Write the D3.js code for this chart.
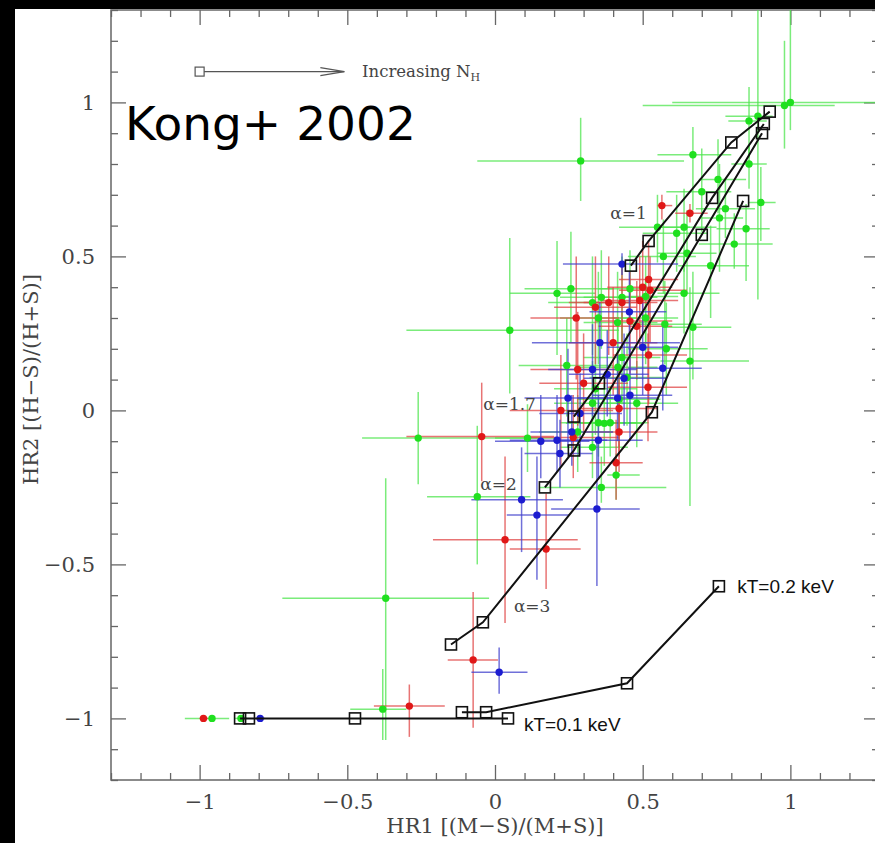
<!DOCTYPE html>
<html>
<head>
<meta charset="utf-8">
<script src="https://cdn.jsdelivr.net/npm/d3@7"></script>
<style>
  body { margin: 0; background: #000; }
  svg { display: block; }
</style>
</head>
<body>
<svg id="chart"></svg>
<script>
const WIDTH = 875,
    HEIGHT = 843;

// sources: [HR1, HR2, HR1 low, HR1 high, HR2 low, HR2 high]
const greenPts = [
    [-0.26, -0.09, -0.45, 0.15, -0.24, 0.06],
    [-0.37, -0.61, -0.72, -0.02, -1.07, -0.22],
    [-0.06, -0.28, -0.23, 0.12, -0.50, -0.05],
    [-0.38, -0.97, -0.49, -0.30, -1.07, -0.84],
    [-0.958, -1.0, -1.05, -0.90, -1.0, -1.0],
    [-0.86, -1.0, -0.88, -0.84, -1.0, -1.0],
    [0.36, -0.25, 0.15, 0.58, -0.30, -0.15],
    [0.41, -0.21, 0.38, 0.49, -0.29, -0.14],
    [0.66, 0.16, 0.56, 0.86, -0.31, 0.40],
    [0.29, 0.81, -0.06, 0.64, 0.68, 0.95],
    [0.67, 0.83, 0.55, 0.80, 0.65, 0.92],
    [1.0, 1.0, 0.60, 1.30, 0.91, 1.30],
    [0.98, 0.99, 0.50, 1.15, 0.85, 1.20],
    [0.89, 0.955, 0.78, 0.94, 0.36, 1.30],
    [0.86, 0.94, 0.79, 0.92, 0.82, 1.05],
    [0.86, 0.80, 0.80, 0.92, 0.72, 0.86],
    [0.755, 0.75, 0.69, 0.85, 0.64, 0.88],
    [0.90, 0.675, 0.86, 0.95, 0.55, 0.79],
    [0.78, 0.655, 0.68, 0.88, 0.56, 0.75],
    [0.76, 0.625, 0.70, 0.84, 0.45, 0.80],
    [0.85, 0.59, 0.75, 0.93, 0.42, 0.67],
    [0.81, 0.54, 0.69, 0.94, 0.46, 0.64],
    [0.64, 0.595, 0.55, 0.75, 0.45, 0.72],
    [0.65, 0.51, 0.55, 0.75, 0.38, 0.65],
    [0.57, 0.50, 0.45, 0.68, 0.38, 0.62],
    [0.55, 0.595, 0.42, 0.66, 0.48, 0.70],
    [0.73, 0.47, 0.62, 0.86, 0.30, 0.60],
    [0.64, 0.38, 0.55, 0.76, 0.25, 0.50],
    [0.70, 0.71, 0.58, 0.80, 0.58, 0.85],
    [0.615, 0.575, 0.50, 0.72, 0.45, 0.70],
    [0.67, 0.27, 0.57, 0.80, 0.10, 0.45],
    [0.457, 0.395, 0.35, 0.56, 0.28, 0.52],
    [0.51, 0.37, 0.42, 0.62, 0.22, 0.50],
    [0.43, 0.367, 0.30, 0.55, 0.22, 0.50],
    [0.36, 0.367, 0.22, 0.48, 0.20, 0.52],
    [0.33, 0.35, 0.18, 0.46, 0.18, 0.50],
    [0.21, 0.38, 0.05, 0.34, 0.18, 0.55],
    [0.257, 0.395, 0.10, 0.40, 0.22, 0.58],
    [0.415, 0.285, 0.30, 0.55, 0.12, 0.45],
    [0.35, 0.30, 0.22, 0.48, 0.15, 0.45],
    [0.51, 0.30, 0.40, 0.62, 0.15, 0.42],
    [0.575, 0.28, 0.45, 0.70, 0.15, 0.42],
    [0.05, 0.26, -0.30, 0.42, 0.055, 0.56],
    [0.58, 0.20, 0.45, 0.72, 0.05, 0.35],
    [0.243, 0.146, 0.08, 0.40, -0.02, 0.30],
    [0.416, 0.14, 0.28, 0.55, 0.0, 0.28],
    [0.43, 0.172, 0.30, 0.56, 0.02, 0.32],
    [0.447, 0.107, 0.32, 0.58, -0.05, 0.25],
    [0.34, 0.07, 0.20, 0.48, -0.08, 0.22],
    [0.42, 0.036, 0.28, 0.56, -0.12, 0.18],
    [0.48, 0.023, 0.36, 0.62, -0.12, 0.16],
    [0.33, 0.023, 0.20, 0.46, -0.12, 0.16],
    [0.37, -0.042, 0.24, 0.50, -0.18, 0.10],
    [0.11, -0.09, 0.0, 0.20, -0.20, 0.02],
    [0.28, -0.07, 0.15, 0.40, -0.20, 0.05],
    [0.35, -0.04, 0.22, 0.48, -0.15, 0.08],
    [0.39, -0.04, 0.27, 0.52, -0.15, 0.08],
    [0.33, -0.12, 0.22, 0.45, -0.22, -0.02]
];

const redPts = [
    [-0.045, -0.085, -0.30, 0.20, -0.23, 0.09],
    [-0.987, -1.0, -1.0, -0.97, -1.0, -1.0],
    [-0.29, -0.96, -0.41, -0.17, -1.06, -0.89],
    [-0.074, -0.81, -0.16, 0.01, -1.03, -0.59],
    [0.034, -0.42, -0.21, 0.28, -0.69, -0.15],
    [0.173, -0.45, 0.05, 0.29, -0.58, -0.27],
    [0.41, -0.17, 0.32, 0.50, -0.29, -0.03],
    [0.565, 0.665, 0.55, 0.60, 0.62, 0.70],
    [0.66, 0.64, 0.61, 0.72, 0.61, 0.67],
    [0.52, 0.425, 0.42, 0.62, 0.30, 0.55],
    [0.50, 0.40, 0.38, 0.60, 0.25, 0.55],
    [0.525, 0.39, 0.42, 0.65, 0.22, 0.50],
    [0.49, 0.357, 0.36, 0.62, 0.20, 0.50],
    [0.385, 0.35, 0.25, 0.52, 0.18, 0.50],
    [0.34, 0.335, 0.20, 0.48, 0.15, 0.50],
    [0.43, 0.35, 0.30, 0.55, 0.20, 0.48],
    [0.457, 0.29, 0.34, 0.60, 0.12, 0.45],
    [0.275, 0.30, 0.12, 0.42, 0.10, 0.50],
    [0.40, 0.22, 0.25, 0.55, 0.05, 0.40],
    [0.52, 0.18, 0.40, 0.65, 0.02, 0.35],
    [0.48, 0.273, 0.35, 0.60, 0.10, 0.42],
    [0.28, 0.133, 0.12, 0.45, -0.05, 0.32],
    [0.518, 0.075, 0.38, 0.65, -0.10, 0.25],
    [0.30, 0.088, 0.15, 0.45, -0.08, 0.25],
    [0.223, 0.0, 0.05, 0.40, -0.18, 0.18],
    [0.42, 0.006, 0.28, 0.55, -0.15, 0.15],
    [0.265, -0.088, 0.12, 0.42, -0.22, 0.05],
    [0.42, -0.07, 0.30, 0.55, -0.20, 0.08]
];

const bluePts = [
    [-0.795, -1.0, -0.81, -0.78, -1.0, -1.0],
    [0.014, -0.85, -0.08, 0.11, -0.92, -0.77],
    [0.142, -0.34, 0.04, 0.25, -0.55, -0.15],
    [0.09, -0.29, -0.08, 0.23, -0.46, -0.12],
    [0.345, -0.32, 0.19, 0.49, -0.57, -0.10],
    [0.43, 0.475, 0.23, 0.62, 0.44, 0.51],
    [0.455, 0.32, 0.32, 0.58, 0.18, 0.45],
    [0.355, 0.22, 0.125, 0.626, 0.10, 0.35],
    [0.50, 0.205, 0.38, 0.62, 0.05, 0.35],
    [0.38, 0.117, 0.25, 0.52, -0.02, 0.26],
    [0.437, 0.104, 0.30, 0.58, -0.05, 0.25],
    [0.568, 0.137, 0.45, 0.70, 0.0, 0.28],
    [0.33, 0.133, 0.18, 0.48, -0.02, 0.28],
    [0.247, 0.04, 0.10, 0.40, -0.12, 0.20],
    [0.457, 0.049, 0.33, 0.60, -0.10, 0.20],
    [0.288, -0.01, 0.15, 0.43, -0.15, 0.12],
    [0.155, -0.10, 0.0, 0.32, -0.22, 0.05],
    [0.21, -0.097, 0.05, 0.38, -0.20, 0.05],
    [0.22, -0.14, 0.10, 0.33, -0.25, -0.03],
    [0.35, -0.097, 0.20, 0.50, -0.22, 0.05],
    [0.26, -0.07, 0.12, 0.40, -0.18, 0.05],
    [0.415, 0.04, 0.28, 0.55, -0.10, 0.18]
];

// model grids, increasing N_H along each track
const alpha1 = [[0.46, 0.47], [0.52, 0.55], [0.80, 0.87], [0.93, 0.97]];
const alpha17 = [[0.267, -0.02], [0.352, 0.088], [0.735, 0.69], [0.91, 0.93]];
const alpha2 = [[0.169, -0.25], [0.267, -0.13], [0.70, 0.57], [0.904, 0.90]];
const alpha3 = [[-0.149, -0.76], [-0.041, -0.688], [0.531, -0.006], [0.84, 0.68]];
const kT01 = [[-0.863, -1.0], [-0.833, -1.0], [-0.474, -1.0], [0.044, -1.0]];
const kT02 = [[-0.112, -0.98], [-0.03, -0.98], [0.447, -0.886], [0.758, -0.571]];

const xMajor = [-1, -0.5, 0, 0.5, 1];
const yMajor = [-1, -0.5, 0, 0.5, 1];

const x = d3.scaleLinear().domain([-1.3, 1.3]).range([111, 879]);
const y = d3.scaleLinear().domain([-1.2, 1.3]).range([780, 10]);

const svg = d3.select('svg#chart')
    .attr('width', WIDTH)
    .attr('height', HEIGHT);

svg.append('rect')
    .attr('x', 15).attr('y', 9)
    .attr('width', WIDTH - 15).attr('height', HEIGHT - 9)
    .attr('fill', '#fff');

svg.append('clipPath').attr('id', 'plotClip')
    .append('rect')
    .attr('x', x.range()[0]).attr('y', y.range()[1])
    .attr('width', x.range()[1] - x.range()[0])
    .attr('height', y.range()[0] - y.range()[1]);

// axes, ticks point inward on all four sides
const minorX = d3.range(-13, 14).map(d => d / 10).filter(d => Math.abs(d * 2 - Math.round(d * 2)) > 1e-6);
const minorY = d3.range(-12, 14).map(d => d / 10).filter(d => Math.abs(d * 2 - Math.round(d * 2)) > 1e-6);
const fmt = d3.format('');

function styleAxis(g) {
    g.select('.domain').remove();
    g.selectAll('line').attr('stroke', '#666').attr('stroke-width', 1.3);
    g.selectAll('text')
        .attr('font-family', 'DejaVu Serif')
        .attr('font-size', 21)
        .attr('fill', '#444');
}

const yBottom = y.range()[0], yTop = y.range()[1];
const xLeft = x.range()[0], xRight = x.range()[1];

svg.append('g').attr('transform', `translate(0,${yBottom})`)
    .call(d3.axisBottom(x).tickValues(xMajor).tickFormat(fmt).tickSizeInner(-15).tickSizeOuter(0).tickPadding(14))
    .call(styleAxis);
svg.append('g').attr('transform', `translate(0,${yBottom})`)
    .call(d3.axisBottom(x).tickValues(minorX).tickFormat('').tickSizeInner(-7).tickSizeOuter(0))
    .call(styleAxis);
svg.append('g').attr('transform', `translate(0,${yTop})`)
    .call(d3.axisTop(x).tickValues(xMajor).tickFormat('').tickSizeInner(-15).tickSizeOuter(0))
    .call(styleAxis);
svg.append('g').attr('transform', `translate(0,${yTop})`)
    .call(d3.axisTop(x).tickValues(minorX).tickFormat('').tickSizeInner(-7).tickSizeOuter(0))
    .call(styleAxis);
svg.append('g').attr('transform', `translate(${xLeft},0)`)
    .call(d3.axisLeft(y).tickValues(yMajor).tickFormat(fmt).tickSizeInner(-15).tickSizeOuter(0).tickPadding(16))
    .call(styleAxis);
svg.append('g').attr('transform', `translate(${xLeft},0)`)
    .call(d3.axisLeft(y).tickValues(minorY).tickFormat('').tickSizeInner(-7).tickSizeOuter(0))
    .call(styleAxis);
svg.append('g').attr('transform', `translate(${xRight},0)`)
    .call(d3.axisRight(y).tickValues(yMajor).tickFormat('').tickSizeInner(-15).tickSizeOuter(0))
    .call(styleAxis);
svg.append('g').attr('transform', `translate(${xRight},0)`)
    .call(d3.axisRight(y).tickValues(minorY).tickFormat('').tickSizeInner(-7).tickSizeOuter(0))
    .call(styleAxis);

svg.append('rect')
    .attr('x', xLeft).attr('y', yTop)
    .attr('width', xRight - xLeft).attr('height', yBottom - yTop)
    .attr('fill', 'none')
    .attr('stroke', '#666')
    .attr('stroke-width', 1.5);

svg.append('text')
    .attr('x', x(0)).attr('y', 833)
    .attr('text-anchor', 'middle')
    .attr('font-family', 'DejaVu Serif').attr('font-size', 21).attr('fill', '#444')
    .text('HR1 [(M\u2212S)/(M+S)]');

svg.append('text')
    .attr('transform', `translate(38,${y(0.1)}) rotate(-90)`)
    .attr('text-anchor', 'middle')
    .attr('font-family', 'DejaVu Serif').attr('font-size', 21).attr('fill', '#444')
    .text('HR2 [(H\u2212S)/(H+S)]');

// data points with error bars
const series = [
    { pts: greenPts, bar: '#4fe64f', dot: '#1fe01f' },
    { pts: redPts, bar: '#e04646', dot: '#e01818' },
    { pts: bluePts, bar: '#4040cc', dot: '#1c1cd0' }
];

const plot = svg.append('g').attr('clip-path', 'url(#plotClip)');

series.forEach(s => {
    const bars = plot.append('g')
        .attr('stroke', s.bar)
        .attr('stroke-opacity', 0.75)
        .attr('stroke-width', 1.5);
    bars.selectAll('line.h')
        .data(s.pts)
        .enter().append('line')
            .attr('class', 'h')
            .attr('x1', d => x(d[2])).attr('x2', d => x(d[3]))
            .attr('y1', d => y(d[1])).attr('y2', d => y(d[1]));
    bars.selectAll('line.v')
        .data(s.pts)
        .enter().append('line')
            .attr('class', 'v')
            .attr('x1', d => x(d[0])).attr('x2', d => x(d[0]))
            .attr('y1', d => y(d[4])).attr('y2', d => y(d[5]));
});

series.forEach(s => {
    plot.append('g')
        .selectAll('circle')
        .data(s.pts)
        .enter().append('circle')
            .attr('cx', d => x(d[0]))
            .attr('cy', d => y(d[1]))
            .attr('r', 3.7)
            .attr('fill', s.dot);
});

// model tracks
const tracks = [alpha1, alpha17, alpha2, alpha3, kT01, kT02];
const line = d3.line().x(d => x(d[0])).y(d => y(d[1]));

tracks.forEach(t => {
    plot.append('path')
        .datum(t)
        .attr('d', line)
        .attr('fill', 'none')
        .attr('stroke', '#111')
        .attr('stroke-width', 2);
    plot.append('g')
        .selectAll('rect')
        .data(t)
        .enter().append('rect')
            .attr('x', d => x(d[0]) - 5.5)
            .attr('y', d => y(d[1]) - 5.5)
            .attr('width', 11).attr('height', 11)
            .attr('fill', 'none')
            .attr('stroke', '#111')
            .attr('stroke-width', 1.6);
});

// track labels
const serifLabels = [
    { text: '\u03b1=1', at: [0.39, 0.62] },
    { text: '\u03b1=1.7', at: [-0.04, 0.0] },
    { text: '\u03b1=2', at: [-0.05, -0.26] },
    { text: '\u03b1=3', at: [0.064, -0.655] }
];
svg.append('g')
    .selectAll('text')
    .data(serifLabels)
    .enter().append('text')
        .attr('x', d => x(d.at[0]))
        .attr('y', d => y(d.at[1]))
        .attr('font-family', 'DejaVu Serif').attr('font-size', 17).attr('fill', '#444')
        .text(d => d.text);

const sansLabels = [
    { text: 'kT=0.2 keV', at: [0.82, -0.594] },
    { text: 'kT=0.1 keV', at: [0.098, -1.04] }
];
svg.append('g')
    .selectAll('text')
    .data(sansLabels)
    .enter().append('text')
        .attr('x', d => x(d.at[0]))
        .attr('y', d => y(d.at[1]))
        .attr('font-family', 'Liberation Sans').attr('font-size', 19).attr('fill', '#111')
        .text(d => d.text);

// N_H direction key
const keyY = y(1.1);
svg.append('rect')
    .attr('x', x(-1) - 4.5).attr('y', keyY - 4.5)
    .attr('width', 9).attr('height', 9)
    .attr('fill', 'none').attr('stroke', '#555').attr('stroke-width', 1.2);
svg.append('line')
    .attr('x1', x(-1) + 4.5).attr('x2', x(-0.51))
    .attr('y1', keyY).attr('y2', keyY)
    .attr('stroke', '#555').attr('stroke-width', 1.2);
svg.append('path')
    .attr('d', `M${x(-0.51) - 24},${keyY - 4}L${x(-0.51)},${keyY}L${x(-0.51) - 24},${keyY + 4}`)
    .attr('fill', 'none').attr('stroke', '#555').attr('stroke-width', 1.2);
const keyText = svg.append('text')
    .attr('x', x(-0.45)).attr('y', keyY + 5)
    .attr('font-family', 'DejaVu Serif').attr('font-size', 16.5).attr('fill', '#444')
    .text('Increasing N');
keyText.append('tspan')
    .attr('font-size', 11)
    .attr('dy', 4)
    .text('H');

svg.append('text')
    .attr('x', 125).attr('y', 140)
    .attr('font-family', 'DejaVu Sans').attr('font-size', 47).attr('fill', '#000')
    .text('Kong+ 2002');
</script>
</body>
</html>
